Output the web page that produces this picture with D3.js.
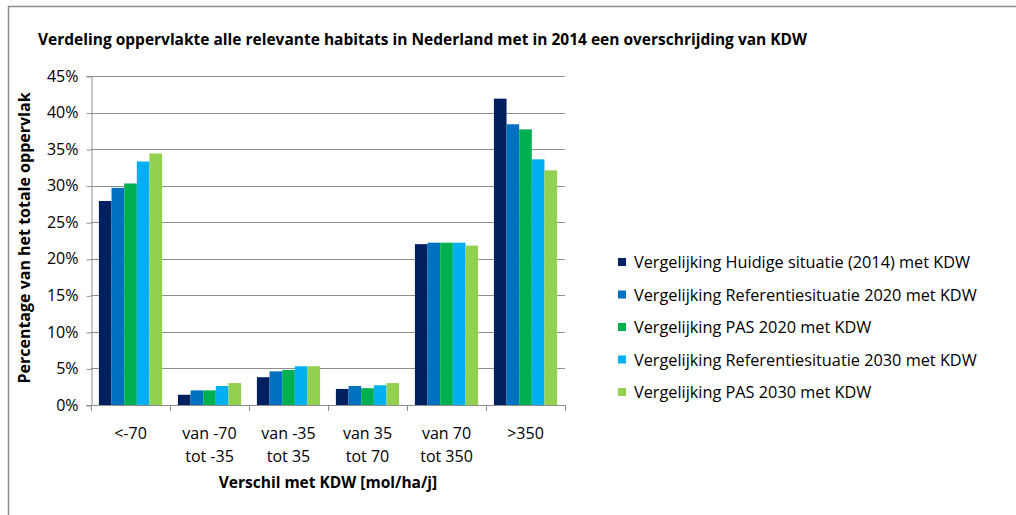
<!DOCTYPE html>
<html>
<head>
<meta charset="utf-8">
<script src="https://cdn.jsdelivr.net/npm/d3@7"></script>
<style>
  body { margin: 0; background: #fff; }
  svg { display: block; font-family: "Open Sans", sans-serif; }
</style>
</head>
<body>
<svg id="chart" width="1016" height="515"></svg>
<script>
// Chart data
const categories = [["<-70"], ["van -70", "tot -35"], ["van -35", "tot 35"], ["van 35", "tot 70"], ["van 70", "tot 350"], [">350"]];
const seriesNames = [
  "Vergelijking Huidige situatie (2014) met KDW",
  "Vergelijking Referentiesituatie 2020 met KDW",
  "Vergelijking PAS 2020 met KDW",
  "Vergelijking Referentiesituatie 2030 met KDW",
  "Vergelijking PAS 2030 met KDW"
];
const huidige2014 = [27.9, 1.4, 3.8, 2.2, 22.0, 41.9];
const referentie2020 = [29.7, 2.0, 4.6, 2.6, 22.2, 38.4];
const pas2020 = [30.3, 2.0, 4.8, 2.3, 22.2, 37.7];
const referentie2030 = [33.3, 2.6, 5.3, 2.7, 22.2, 33.6];
const pas2030 = [34.4, 3.0, 5.3, 3.0, 21.8, 32.1];
const seriesValues = [huidige2014, referentie2020, pas2020, referentie2030, pas2030];
const yTicks = [0, 5, 10, 15, 20, 25, 30, 35, 40, 45];
const colors = ["#002060", "#0070C0", "#00B050", "#00B0F0", "#92D050"];

const svg = d3.select("#chart");

// Outer frame
svg.append("rect")
  .attr("x", 8.5).attr("y", 6.5)
  .attr("width", 1020).attr("height", 520)
  .attr("fill", "none").attr("stroke", "#8c8c8c").attr("stroke-width", 1.5);

// Plot area
const plot = { left: 91, right: 565, top: 76, bottom: 405 };

const xCat = d3.scaleBand()
  .domain(d3.range(categories.length))
  .range([plot.left, plot.right]);

const xSeries = d3.scaleBand()
  .domain(d3.range(seriesNames.length))
  .range([0, xCat.bandwidth() * 0.8]);

const y = d3.scaleLinear()
  .domain([0, 45])
  .range([plot.bottom, plot.top]);

// Gridlines
svg.append("g")
  .selectAll("line")
  .data(yTicks.filter(d => d > 0))
  .join("line")
  .attr("x1", plot.left).attr("x2", plot.right)
  .attr("y1", d => Math.round(y(d)) + 0.5).attr("y2", d => Math.round(y(d)) + 0.5)
  .attr("stroke", "#8e8e8e").attr("stroke-width", 1);

// Bars
const groups = svg.append("g")
  .selectAll("g")
  .data(categories.map((c, i) => i))
  .join("g")
  .attr("transform", i => `translate(${xCat(i) + xCat.bandwidth() * 0.1},0)`);

groups.selectAll("rect")
  .data(i => seriesValues.map((vals, s) => ({ s, v: vals[i] })))
  .join("rect")
  .attr("x", d => xSeries(d.s))
  .attr("width", xSeries.bandwidth())
  .attr("y", d => y(d.v))
  .attr("height", d => y(0) - y(d.v))
  .attr("fill", d => colors[d.s]);

// Y axis
const yAxis = svg.append("g")
  .attr("transform", `translate(${plot.left + 0.5},0)`)
  .call(d3.axisLeft(y).tickValues(yTicks).tickFormat(d => d + "%").tickSize(5).tickPadding(8));
yAxis.select(".domain").attr("stroke", "#8e8e8e");
yAxis.selectAll("line").attr("stroke", "#8e8e8e").attr("transform", "translate(0,0.5)");
yAxis.selectAll("text").attr("fill", "#000").style("font-size", "16px").attr("font-family", "'Open Sans', sans-serif");

// X axis line with ticks on band boundaries
const xAxis = svg.append("g");
xAxis.append("line")
  .attr("x1", plot.left).attr("x2", plot.right)
  .attr("y1", plot.bottom + 0.5).attr("y2", plot.bottom + 0.5)
  .attr("stroke", "#8e8e8e");
xAxis.selectAll("line.tick")
  .data(d3.range(categories.length + 1))
  .join("line")
  .attr("class", "tick")
  .attr("x1", i => Math.round(plot.left + i * xCat.step()) + 0.5)
  .attr("x2", i => Math.round(plot.left + i * xCat.step()) + 0.5)
  .attr("y1", plot.bottom).attr("y2", plot.bottom + 6)
  .attr("stroke", "#8e8e8e");

// Category labels
const catLabels = svg.append("g")
  .selectAll("text")
  .data(categories)
  .join("text")
  .attr("x", (c, i) => xCat(i) + xCat.bandwidth() / 2)
  .attr("y", 439)
  .attr("text-anchor", "middle")
  .style("font-size", "16px")
  .attr("fill", "#000");
catLabels.selectAll("tspan")
  .data(d => d)
  .join("tspan")
  .attr("x", function () { return d3.select(this.parentNode).attr("x"); })
  .attr("dy", (d, i) => i === 0 ? 0 : 23)
  .text(d => d);

// Axis titles
svg.append("text")
  .attr("x", 328).attr("y", 488)
  .attr("text-anchor", "middle")
  .style("font-size", "15.5px").style("font-weight", "bold")
  .text("Verschil met KDW [mol/ha/j]");

svg.append("text")
  .attr("transform", "translate(30,238) rotate(-90)")
  .attr("text-anchor", "middle")
  .style("font-size", "16px").style("font-weight", "bold")
  .text("Percentage van het totale oppervlak");

// Chart title
svg.append("text")
  .attr("x", 38).attr("y", 45)
  .style("font-size", "15.5px").style("font-weight", "bold")
  .text("Verdeling oppervlakte alle relevante habitats in Nederland met in 2014 een overschrijding van KDW");

// Legend
const legend = svg.append("g")
  .selectAll("g")
  .data(seriesNames)
  .join("g")
  .attr("transform", (d, i) => `translate(618,${262 + i * 32.5})`);
legend.append("rect")
  .attr("x", 0).attr("y", -4)
  .attr("width", 8).attr("height", 8)
  .attr("fill", (d, i) => colors[i]);
legend.append("text")
  .attr("x", 16).attr("y", 6)
  .style("font-size", "16.3px")
  .attr("fill", "#000")
  .text(d => d);
</script>
</body>
</html>
